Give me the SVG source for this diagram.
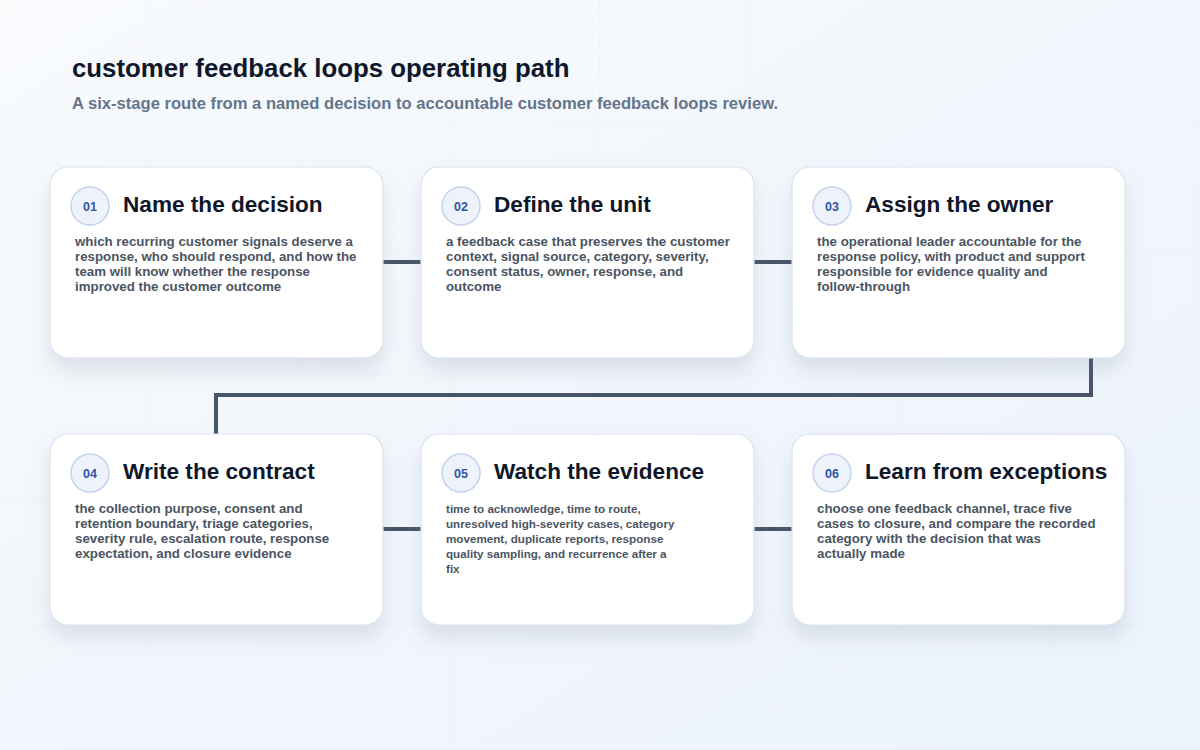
<svg xmlns="http://www.w3.org/2000/svg" width="1200" height="750" viewBox="0 0 1200 750">
<defs>
<linearGradient id="bg" x1="0" y1="0" x2="1" y2="1">
<stop offset="0" stop-color="#f8fafc"/>
<stop offset="1" stop-color="#ecf3fd"/>
</linearGradient>
<pattern id="grid" width="150" height="125" patternUnits="userSpaceOnUse">
<path d="M150 0V125M0 125H150" fill="none" stroke="#e2e8f0" stroke-width="1" opacity="0.6"/>
</pattern>
<filter id="shadow" x="-20%" y="-20%" width="140%" height="160%">
<feDropShadow dx="0" dy="12" stdDeviation="10" flood-color="#64748b" flood-opacity="0.18"/>
</filter>
</defs>
<style>
.title{font-family:"Liberation Sans",Arial,sans-serif;font-weight:700;font-size:25.8px;fill:#0f172a}
.sub{font-family:"Liberation Sans",Arial,sans-serif;font-weight:700;font-size:16.6px;fill:#64748b}
.card{fill:#ffffff;stroke:#dbe3ee;stroke-width:1.2;filter:url(#shadow)}
.badge{fill:#eef2fb;stroke:#c3d2ee;stroke-width:1.5}
.num{font-family:"Liberation Sans",Arial,sans-serif;font-weight:700;font-size:12.5px;fill:#2f55a4;text-anchor:middle}
.head{font-family:"Liberation Sans",Arial,sans-serif;font-weight:700;font-size:22.6px;fill:#0f172a}
.body{font-family:"Liberation Sans",Arial,sans-serif;font-weight:700;font-size:13.3px;fill:#4b5563}
.small{font-family:"Liberation Sans",Arial,sans-serif;font-weight:700;font-size:11.65px;fill:#4b5563}
.conn{fill:none;stroke:#475569;stroke-width:4}
</style>
<rect width="1200" height="750" fill="url(#bg)"/>
<rect width="1200" height="750" fill="url(#grid)"/>
<text class="title" x="72" y="77">customer feedback loops operating path</text>
<text class="sub" x="72" y="109">A six-stage route from a named decision to accountable customer feedback loops review.</text>

<g id="connectors">
<path class="conn" d="M383 262H421"/>
<path class="conn" d="M754 262H792"/>
<path class="conn" d="M1091 358V395H216V434"/>
<path class="conn" d="M383 529H421"/>
<path class="conn" d="M754 529H792"/>
</g>

<g id="node-01">
<rect class="card" x="50" y="167" width="333" height="191" rx="18"/>
<circle class="badge" cx="90" cy="206" r="19"/>
<text class="num" x="90" y="210.5">01</text>
<text class="head" x="123" y="212">Name the decision</text>
<text class="body" x="75" y="246">which recurring customer signals deserve a</text>
<text class="body" x="75" y="261">response, who should respond, and how the</text>
<text class="body" x="75" y="276">team will know whether the response</text>
<text class="body" x="75" y="291">improved the customer outcome</text>
</g>

<g id="node-02">
<rect class="card" x="421" y="167" width="333" height="191" rx="18"/>
<circle class="badge" cx="461" cy="206" r="19"/>
<text class="num" x="461" y="210.5">02</text>
<text class="head" x="494" y="212">Define the unit</text>
<text class="body" x="446" y="246">a feedback case that preserves the customer</text>
<text class="body" x="446" y="261">context, signal source, category, severity,</text>
<text class="body" x="446" y="276">consent status, owner, response, and</text>
<text class="body" x="446" y="291">outcome</text>
</g>

<g id="node-03">
<rect class="card" x="792" y="167" width="333" height="191" rx="18"/>
<circle class="badge" cx="832" cy="206" r="19"/>
<text class="num" x="832" y="210.5">03</text>
<text class="head" x="865" y="212">Assign the owner</text>
<text class="body" x="817" y="246">the operational leader accountable for the</text>
<text class="body" x="817" y="261">response policy, with product and support</text>
<text class="body" x="817" y="276">responsible for evidence quality and</text>
<text class="body" x="817" y="291">follow-through</text>
</g>

<g id="node-04">
<rect class="card" x="50" y="434" width="333" height="191" rx="18"/>
<circle class="badge" cx="90" cy="473" r="19"/>
<text class="num" x="90" y="477.5">04</text>
<text class="head" x="123" y="479">Write the contract</text>
<text class="body" x="75" y="513">the collection purpose, consent and</text>
<text class="body" x="75" y="528">retention boundary, triage categories,</text>
<text class="body" x="75" y="543">severity rule, escalation route, response</text>
<text class="body" x="75" y="558">expectation, and closure evidence</text>
</g>

<g id="node-05">
<rect class="card" x="421" y="434" width="333" height="191" rx="18"/>
<circle class="badge" cx="461" cy="473" r="19"/>
<text class="num" x="461" y="477.5">05</text>
<text class="head" x="494" y="479">Watch the evidence</text>
<text class="small" x="446" y="513">time to acknowledge, time to route,</text>
<text class="small" x="446" y="528">unresolved high-severity cases, category</text>
<text class="small" x="446" y="543">movement, duplicate reports, response</text>
<text class="small" x="446" y="558">quality sampling, and recurrence after a</text>
<text class="small" x="446" y="573">fix</text>
</g>

<g id="node-06">
<rect class="card" x="792" y="434" width="333" height="191" rx="18"/>
<circle class="badge" cx="832" cy="473" r="19"/>
<text class="num" x="832" y="477.5">06</text>
<text class="head" x="865" y="479">Learn from exceptions</text>
<text class="body" x="817" y="513">choose one feedback channel, trace five</text>
<text class="body" x="817" y="528">cases to closure, and compare the recorded</text>
<text class="body" x="817" y="543">category with the decision that was</text>
<text class="body" x="817" y="558">actually made</text>
</g>
</svg>
